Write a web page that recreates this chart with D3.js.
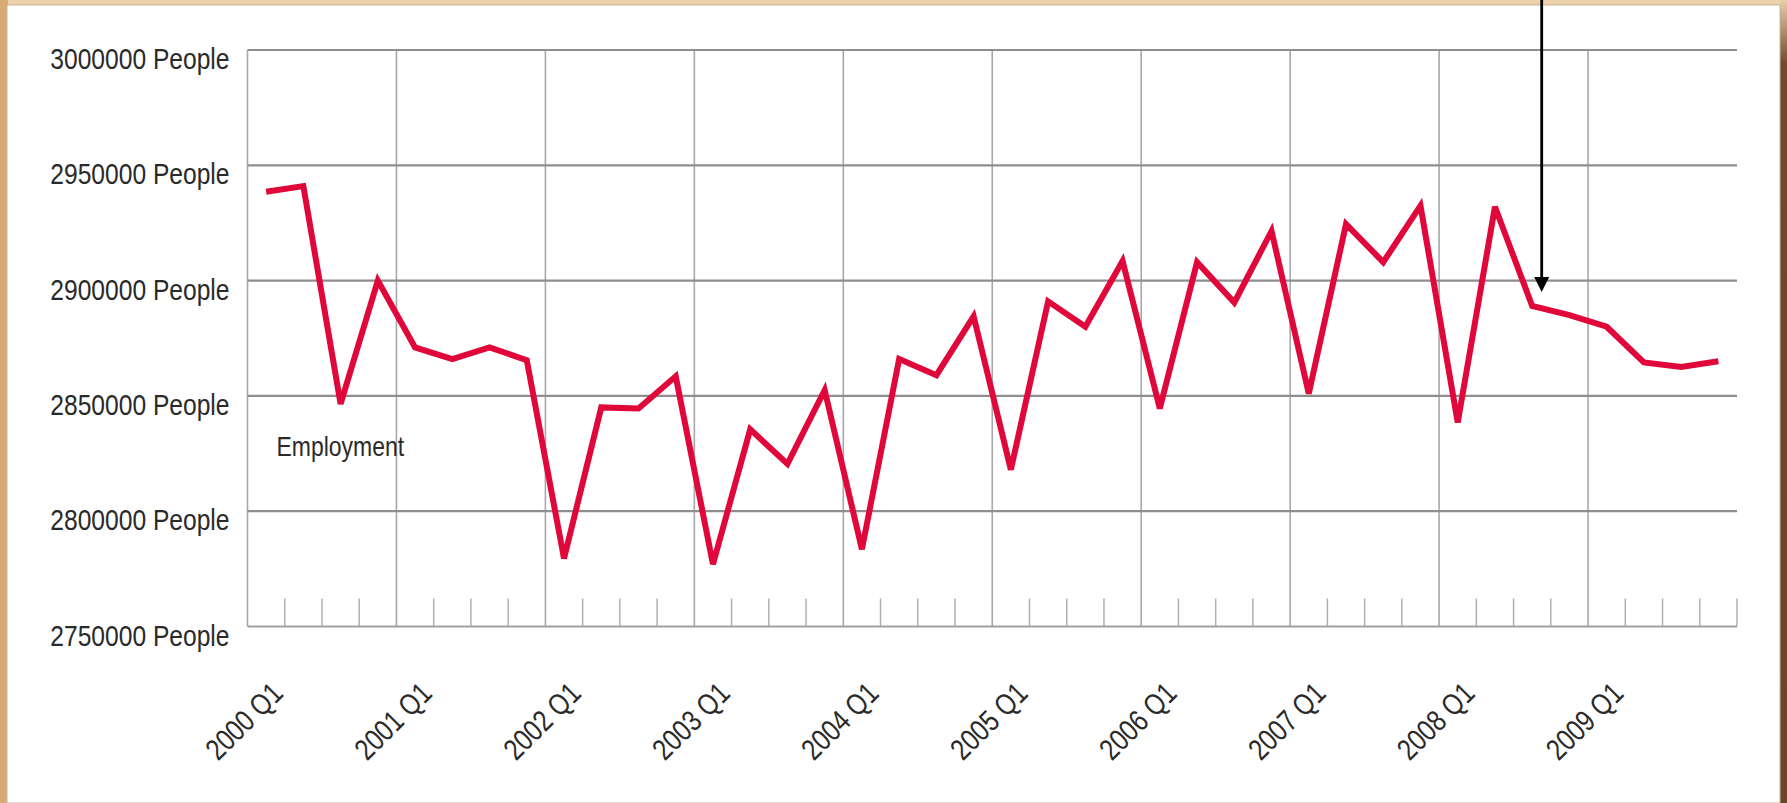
<!DOCTYPE html>
<html>
<head>
<meta charset="utf-8">
<script src="https://cdn.jsdelivr.net/npm/d3@7"></script>
<style>
  html, body { margin: 0; padding: 0; background: #e7c9a0; }
  svg { display: block; }
  text { font-family: "Liberation Sans", Arial, sans-serif; fill: #2a2a2a; }
</style>
</head>
<body>
<svg id="chart" width="1787" height="803"></svg>
<script>
// Quarterly employment, 2000 Q1 – 2009 Q4
const years = ["2000","2001","2002","2003","2004","2005","2006","2007","2008","2009"];
const quarterNames = ["Q1","Q2","Q3","Q4"];
const quarters = years.flatMap(y => quarterNames.map(q => y + " " + q));

const employment = [
  2938500, 2941000, 2846500, 2900000,
  2871000, 2866000, 2871000, 2865500,
  2779500, 2845000, 2844500, 2858500,
  2777000, 2835500, 2820500, 2852500,
  2783500, 2866000, 2859000, 2884500,
  2818000, 2891000, 2880000, 2908500,
  2844500, 2908000, 2890500, 2921500,
  2851000, 2924500, 2908000, 2932500,
  2838500, 2932000, 2889000, 2885000,
  2880000, 2864500, 2862500, 2865000
];

const yTicks = [2750000, 2800000, 2850000, 2900000, 2950000, 3000000];
const xLabelQuarters = quarters.filter(q => q.endsWith("Q1"));
const seriesLabel = "Employment";
const markedQuarter = "2008 Q3";

const W = 1787, H = 803;
const NARROW = 0.82; // condensed glyph width factor
const svg = d3.select("#chart");

// Squeeze text horizontally to a condensed face
function condense(sel) {
  sel.each(function () {
    const len = this.getComputedTextLength();
    d3.select(this).attr("textLength", len * NARROW).attr("lengthAdjust", "spacingAndGlyphs");
  });
}

// Frame: board edges around a white sheet
const defs = svg.append("defs");
const rightGrad = defs.append("linearGradient").attr("id", "rightEdge")
  .attr("x1", 0).attr("y1", 0).attr("x2", 0).attr("y2", 1);
rightGrad.append("stop").attr("offset", "0").attr("stop-color", "#e8cfa6");
rightGrad.append("stop").attr("offset", "0.08").attr("stop-color", "#6f4a2b");
rightGrad.append("stop").attr("offset", "1").attr("stop-color", "#6a4427");

svg.append("rect").attr("width", W).attr("height", H).attr("fill", "#ead1a9");
svg.append("rect").attr("x", 0).attr("y", 0).attr("width", 8).attr("height", H).attr("fill", "#d9aa74");
svg.append("rect").attr("x", 1780).attr("y", 0).attr("width", 7).attr("height", H).attr("fill", "url(#rightEdge)");
svg.append("rect").attr("x", 7).attr("y", 5).attr("width", 1773).attr("height", H - 5)
  .attr("fill", "#ffffff").attr("stroke", "#c8b59a").attr("stroke-width", 1);

// Scales
const x = d3.scaleBand().domain(quarters).range([247.5, 1737]).paddingInner(0).paddingOuter(0);
const y = d3.scaleLinear().domain([2750000, 3000000]).range([626.5, 50]);
const bw = x.bandwidth();
const cx = q => x(q) + bw / 2;

const plot = svg.append("g");

// Vertical year lines
plot.append("g").selectAll("line").data(xLabelQuarters).join("line")
  .attr("x1", d => x(d)).attr("x2", d => x(d))
  .attr("y1", y(3000000)).attr("y2", y(2750000))
  .attr("stroke", "#a8a8a8").attr("stroke-width", 1.6);

// Quarter ticks along the bottom axis
const tickPositions = quarters.filter(q => !q.endsWith("Q1")).map(q => x(q)).concat([x.range()[1]]);
plot.append("g").selectAll("line").data(tickPositions).join("line")
  .attr("x1", d => d).attr("x2", d => d)
  .attr("y1", y(2750000) - 28).attr("y2", y(2750000))
  .attr("stroke", "#b0b0b0").attr("stroke-width", 1.5);

// Horizontal grid lines
plot.append("g").selectAll("line").data(yTicks).join("line")
  .attr("x1", x.range()[0]).attr("x2", x.range()[1])
  .attr("y1", d => y(d)).attr("y2", d => y(d))
  .attr("stroke", d => d === 2750000 ? "#a0a0a0" : "#8e8e8e").attr("stroke-width", 2.2);

// Y axis labels
const yAxis = d3.axisLeft(y).tickValues(yTicks).tickFormat(d => d + " People").tickSize(0).tickPadding(18);
const yg = svg.append("g").attr("transform", `translate(${x.range()[0]},0)`).call(yAxis);
yg.select(".domain").remove();
yg.selectAll("text")
  .attr("dy", "0.62em")
  .style("font-size", "30px")
  .style("font-family", '"Liberation Sans", Arial, sans-serif')
  .attr("fill", "#2a2a2a")
  .call(condense);

// X axis labels, rotated
svg.append("g").selectAll("text").data(xLabelQuarters).join("text")
  .attr("transform", d => `translate(${x(d) + bw},${y(2750000) + 68.5}) rotate(-45)`)
  .attr("text-anchor", "end")
  .style("font-size", "30px")
  .text(d => d)
  .call(condense);

// Series label
svg.append("text")
  .attr("x", x.range()[0] + 29)
  .attr("y", y(2850000) + 60)
  .style("font-size", "28px")
  .text(seriesLabel)
  .call(condense);

// Employment line
const line = d3.line()
  .x((d, i) => cx(quarters[i]))
  .y(d => y(d));
plot.append("path").datum(employment)
  .attr("d", line)
  .attr("fill", "none")
  .attr("stroke", "#e0073b")
  .attr("stroke-width", 6)
  .attr("stroke-linejoin", "miter")
  .attr("stroke-miterlimit", 3);

// Marker arrow pointing down at a quarter
const mIdx = quarters.indexOf(markedQuarter);
const ax = cx(markedQuarter) + 9.5;
const tipY = y(employment[mIdx]) - 14;
svg.append("line")
  .attr("x1", ax).attr("x2", ax)
  .attr("y1", 0).attr("y2", tipY - 12)
  .attr("stroke", "#000").attr("stroke-width", 2.8);
svg.append("path")
  .attr("d", `M${ax - 7.5},${tipY - 15} L${ax + 7.5},${tipY - 15} L${ax},${tipY} Z`)
  .attr("fill", "#000");
</script>
</body>
</html>
